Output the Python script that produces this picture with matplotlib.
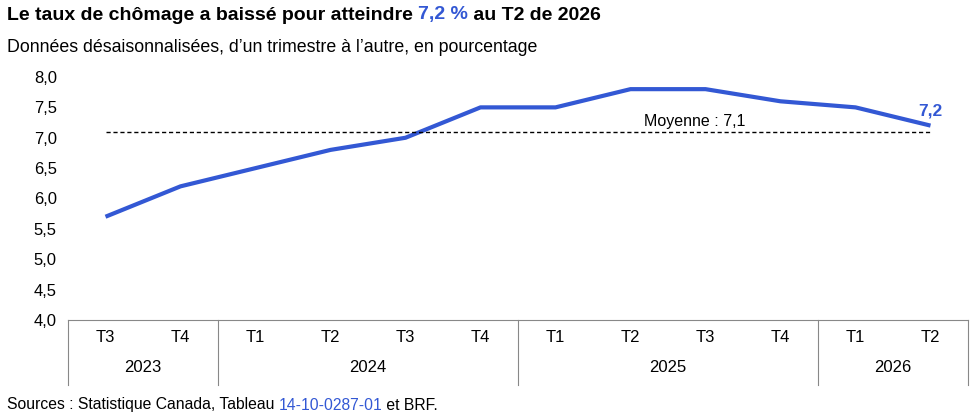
import matplotlib
matplotlib.use("Agg")
import matplotlib.pyplot as plt
import matplotlib.transforms as mtransforms

plt.rcParams['font.family'] = ['Liberation Sans', 'DejaVu Sans']

quarters = ["T3", "T4", "T1", "T2", "T3", "T4", "T1", "T2", "T3", "T4", "T1", "T2"]
years = ["2023", "2024", "2025", "2026"]
year_spans = [(0, 1), (2, 5), (6, 9), (10, 11)]
rate = [5.7, 6.2, 6.5, 6.8, 7.0, 7.5, 7.5, 7.8, 7.8, 7.6, 7.5, 7.2]
mean_rate = 7.1
yticks = [4.0, 4.5, 5.0, 5.5, 6.0, 6.5, 7.0, 7.5, 8.0]
blue = "#3358D4"

fig = plt.figure(figsize=(9.75, 4.2), dpi=100)
ax = fig.add_axes([68/975, 1-320/420, 900/975, 243/420])
x = list(range(len(rate)))
ax.plot(x, rate, color=blue, lw=3, solid_capstyle='butt')
ax.plot([x[0], x[-1]], [mean_rate, mean_rate], color='black', lw=1, ls=(0, (3, 2)))
ax.text(7.85, mean_rate + 0.05, "Moyenne : 7,1", fontsize=11.5, ha='center', va='bottom')
ax.text(x[-1], rate[-1] + 0.12, "7,2", color=blue, fontsize=12.5, fontweight='bold', ha='center', va='bottom')
ax.set_xlim(-0.5, 11.5)
ax.set_ylim(4.0, 8.0)
ax.set_yticks(yticks)
ax.set_yticklabels([f"{v:.1f}".replace('.', ',') for v in yticks], fontsize=12)
ax.set_xticks([])
for s in ['top', 'right', 'left']:
    ax.spines[s].set_visible(False)
ax.spines['bottom'].set_color('#888888')
ax.tick_params(axis='y', length=0, pad=8)

tr = mtransforms.blended_transform_factory(ax.transData, ax.transAxes)
axh = 243
for i, q in enumerate(quarters):
    ax.text(i, -17/axh, q, transform=tr, ha='center', va='center', fontsize=12)
for (a, b), yr in zip(year_spans, years):
    ax.text((a + b) / 2, -47/axh, yr, transform=tr, ha='center', va='center', fontsize=12)
for bx in [-0.5, 1.5, 5.5, 9.5, 11.5]:
    ax.plot([bx, bx], [0, -65/axh], transform=tr, color='#888888', lw=0.8, clip_on=False)

fig.canvas.draw()
r = fig.canvas.get_renderer()
t1 = fig.text(7/975, 1-15/420, "Le taux de chômage a baissé pour atteindre ", fontsize=14, fontweight='bold', va='center')
bb = t1.get_window_extent(r)
t2 = fig.text(bb.x1 / fig.bbox.width, 1-15/420, "7,2 %", fontsize=14, fontweight='bold', va='center', color=blue)
bb2 = t2.get_window_extent(r)
fig.text(bb2.x1 / fig.bbox.width, 1-15/420, " au T2 de 2026", fontsize=14, fontweight='bold', va='center')
fig.text(7/975, 1-47/420, "Données désaisonnalisées, d\u2019un trimestre à l\u2019autre, en pourcentage", fontsize=12.8, va='center')

s1 = fig.text(7/975, 1-405/420, "Sources : Statistique Canada, Tableau ", fontsize=11.3, va='center')
bb3 = s1.get_window_extent(r)
s2 = fig.text(bb3.x1 / fig.bbox.width, 1-405/420, "14-10-0287-01", fontsize=11.3, va='center', color=blue)
bb4 = s2.get_window_extent(r)
fig.text(bb4.x1 / fig.bbox.width, 1-405/420, " et BRF.", fontsize=11.3, va='center')

fig.savefig("out.png", dpi=100)
